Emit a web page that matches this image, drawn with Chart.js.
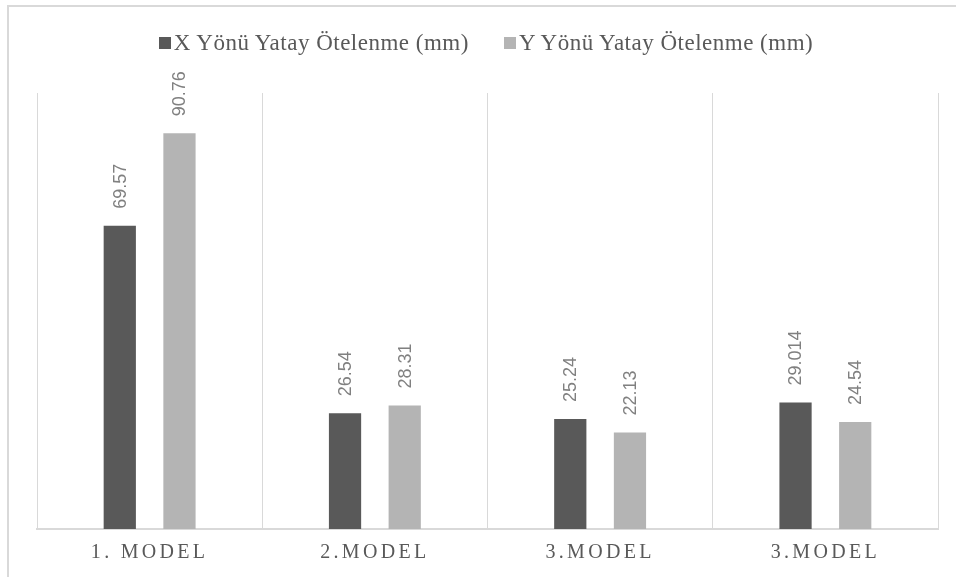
<!DOCTYPE html>
<html lang="tr">
<head>
<meta charset="utf-8">
<title>Yatay Ötelenme</title>
<script src="https://cdn.jsdelivr.net/npm/chart.js@4/dist/chart.umd.min.js"></script>
<style>
    body { margin: 0; background: #fff; }
    #wrap { position: relative; width: 956px; height: 577px; overflow: hidden; }
    #frame {
        position: absolute; left: 7px; top: 5px; right: -10px; bottom: -10px;
        border-left: 2px solid #d9d9d9; border-top: 2px solid #d9d9d9;
    }
    #myChart { position: absolute; left: 0; top: 0; }
    #legend {
        position: absolute; left: 8px; top: 29px; width: 956px;
        display: flex; justify-content: center; gap: 35px;
        font-family: "Liberation Serif", "Times New Roman", serif;
        font-size: 23px; letter-spacing: 0.5px; line-height: 28px; color: #595959;
    }
    #legend .item { display: flex; align-items: center; white-space: nowrap; }
    #legend .box { width: 12px; height: 12px; margin-right: 3px; }
</style>
</head>
<body>
<div id="wrap">
    <div id="frame"></div>
    <canvas id="myChart" width="956" height="577"></canvas>
    <div id="legend"></div>
</div>
<script>
// --- Data ---
const categories = ['1. MODEL', '2.MODEL', '3.MODEL', '3.MODEL'];
const seriesNames = ['X Yönü Yatay Ötelenme (mm)', 'Y Yönü Yatay Ötelenme (mm)'];
const xValues = [69.57, 26.54, 25.24, 29.014];
const yValues = [90.76, 28.31, 22.13, 24.54];
const colors = ['#595959', '#b4b4b4'];

// --- Legend (HTML) ---
const legendEl = document.getElementById('legend');
seriesNames.forEach((name, i) => {
    const item = document.createElement('span');
    item.className = 'item';
    const box = document.createElement('span');
    box.className = 'box';
    box.style.background = colors[i];
    item.appendChild(box);
    item.appendChild(document.createTextNode(name));
    legendEl.appendChild(item);
});

// x axis labels are spaced out, value labels are not
const letterSpacingPlugin = {
    id: 'letterSpacing',
    beforeDraw(chart) { chart.ctx.letterSpacing = '3.3px'; },
    afterDraw(chart) { chart.ctx.letterSpacing = '0px'; }
};

// rotated value labels above each bar
const valueLabels = {
    id: 'valueLabels',
    afterDatasetsDraw(chart) {
        const ctx = chart.ctx;
        chart.data.datasets.forEach((ds, di) => {
            const meta = chart.getDatasetMeta(di);
            meta.data.forEach((bar, i) => {
                ctx.save();
                ctx.letterSpacing = '0px';
                ctx.font = '18px "Liberation Sans", Arial, sans-serif';
                ctx.fillStyle = '#808080';
                ctx.textAlign = 'left';
                ctx.textBaseline = 'middle';
                ctx.translate(bar.x + 1, bar.y - 17);
                ctx.rotate(-Math.PI / 2);
                ctx.fillText(String(ds.data[i]), 0, 0);
                ctx.restore();
            });
        });
    }
};

const ctx = document.getElementById('myChart').getContext('2d');
new Chart(ctx, {
    type: 'bar',
    data: {
        labels: categories,
        datasets: [
            { label: seriesNames[0], data: xValues, backgroundColor: colors[0] },
            { label: seriesNames[1], data: yValues, backgroundColor: colors[1] }
        ]
    },
    options: {
        responsive: false,
        animation: false,
        categoryPercentage: 0.53,
        barPercentage: 0.54,
        layout: { padding: { top: 93, left: 37, right: 18, bottom: 0 } },
        plugins: {
            legend: { display: false },
            tooltip: { enabled: false }
        },
        scales: {
            x: {
                grid: { color: '#d9d9d9', lineWidth: 1, offset: true, drawTicks: false },
                border: { color: '#d9d9d9', width: 2 },
                ticks: {
                    color: '#595959',
                    padding: 12,
                    font: { family: '"Liberation Serif", "Times New Roman", serif', size: 20 }
                }
            },
            y: { display: false, min: 0, max: 100 }
        }
    },
    plugins: [letterSpacingPlugin, valueLabels]
});
</script>
</body>
</html>
